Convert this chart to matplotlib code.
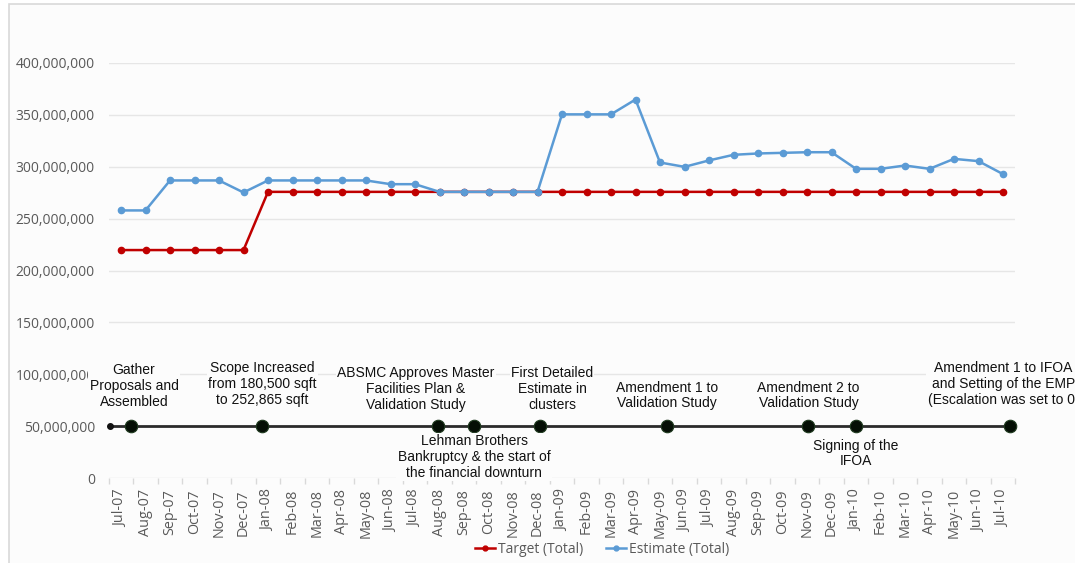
import matplotlib
matplotlib.use("Agg")
import matplotlib.pyplot as plt
from matplotlib.patches import Rectangle
from matplotlib.ticker import FuncFormatter, MultipleLocator
from matplotlib.lines import Line2D

# ---------------- data ----------------
months = ["Jul-07", "Aug-07", "Sep-07", "Oct-07", "Nov-07", "Dec-07",
          "Jan-08", "Feb-08", "Mar-08", "Apr-08", "May-08", "Jun-08",
          "Jul-08", "Aug-08", "Sep-08", "Oct-08", "Nov-08", "Dec-08",
          "Jan-09", "Feb-09", "Mar-09", "Apr-09", "May-09", "Jun-09",
          "Jul-09", "Aug-09", "Sep-09", "Oct-09", "Nov-09", "Dec-09",
          "Jan-10", "Feb-10", "Mar-10", "Apr-10", "May-10", "Jun-10",
          "Jul-10"]

target = [219.7, 219.7, 219.7, 219.7, 219.7, 219.7,
          275.8, 275.8, 275.8, 275.8, 275.8, 275.8,
          275.8, 275.8, 275.8, 275.8, 275.8, 275.8,
          275.8, 275.8, 275.8, 275.8, 275.8, 275.8,
          275.8, 275.8, 275.8, 275.8, 275.8, 275.8,
          275.8, 275.8, 275.8, 275.8, 275.8, 275.8,
          275.8]

estimate = [257.9, 257.9, 286.8, 286.8, 286.8, 275.2,
            286.8, 286.8, 286.8, 286.8, 286.8, 283.2,
            283.2, 275.8, 275.8, 275.8, 275.8, 275.8,
            350.5, 350.5, 350.5, 364.8, 304.1, 299.9,
            306.1, 311.5, 312.8, 313.4, 314.0, 314.0,
            298.0, 298.0, 301.2, 298.0, 307.6, 305.4,
            292.9]

# timeline events (month-index position on the time axis)
event_pos = [0.41, 5.76, 12.94, 14.41, 17.1, 22.29, 28.04, 30.0, 36.29]

event_labels = ["Gather\nProposals and\nAssembled",
                "Scope Increased\nfrom 180,500 sqft\nto 252,865 sqft",
                "ABSMC Approves Master\nFacilities Plan &\nValidation Study",
                "Lehman Brothers\nBankruptcy & the start of\nthe financial downturn",
                "First Detailed\nEstimate in\nclusters",
                "Amendment 1 to\nValidation Study",
                "Amendment 2 to\nValidation Study",
                "Signing of the\nIFOA",
                "Amendment 1 to IFOA\nand Setting of the EMP\n(Escalation was set to 0)"]

# ---------------- layout ----------------
label_x = [0.53, 5.78, 12.04, 14.41, 17.59, 22.29, 28.06, 29.98, 36.02]
label_y = [88.6, 90.6, 85.7, 20.2, 85.7, 79.5, 79.5, 23.6, 90.6]
timeline_y = 50
timeline_start = -0.45
timeline_end = 36.29

SCALE = 1e6
RED = "#c00000"
BLUE = "#5b9bd5"
BG = "#fcfcfc"
TICKC = "#595959"

fig = plt.figure(figsize=(10.75, 5.63), dpi=100)
fig.patch.set_facecolor("white")
fig.patches.append(Rectangle((9 / 1075, -0.1), 1.1, 1.1 - 4.5 / 563,
                             transform=fig.transFigure, facecolor=BG,
                             edgecolor="#d9d9d9", linewidth=1.2, zorder=-10))

ax = fig.add_axes([108.75 / 1075, 1 - 478 / 563,
                   (1015.25 - 108.75) / 1075, (478 - 63) / 563])
ax.set_facecolor("none")

x = list(range(len(months)))
ax.plot(x, [v * SCALE for v in target], color=RED, lw=1.8, marker="o",
        ms=4.5, label="Target (Total)", zorder=3)
ax.plot(x, [v * SCALE for v in estimate], color=BLUE, lw=1.8, marker="o",
        ms=4.5, label="Estimate (Total)", zorder=4)

ax.set_xlim(-0.5, len(months) - 0.5)
ax.set_ylim(0, 400e6)
ax.yaxis.set_major_locator(MultipleLocator(50e6))
ax.yaxis.set_major_formatter(FuncFormatter(lambda v, p: f"{int(v):,}"))
ax.grid(axis="y", color="#e6e6e6", lw=1.0, zorder=0)
ax.set_axisbelow(True)
for s in ax.spines.values():
    s.set_visible(False)

ax.set_xticks(x)
ax.set_xticklabels(months, rotation=90, fontfamily="Open Sans",
                   fontsize=10.4, color=TICKC)
ax.set_xticks([i - 0.5 for i in range(len(months) + 1)], minor=True)
ax.tick_params(axis="x", which="major", length=0, pad=8)
ax.tick_params(axis="x", which="minor", length=4, color="#d9d9d9", width=1)
ax.tick_params(axis="y", length=0, pad=10)
for lab in ax.get_yticklabels():
    lab.set_fontfamily("Open Sans")
    lab.set_fontsize(10)
    lab.set_color(TICKC)

# ---------------- timeline overlay ----------------
ax.plot([timeline_start, timeline_end], [timeline_y * SCALE] * 2,
        color="#2b2b2b", lw=2, zorder=5, clip_on=False)
ax.plot([timeline_start], [timeline_y * SCALE], marker="o", ms=4,
        color="#111111", zorder=6, clip_on=False)
ax.plot(event_pos, [timeline_y * SCALE] * len(event_pos), linestyle="none",
        marker="o", ms=9, markerfacecolor="#050f05",
        markeredgecolor="#1f3a1f", markeredgewidth=0.8, zorder=6,
        clip_on=False)
for lx, ly, txt in zip(label_x, label_y, event_labels):
    ax.text(lx, ly * SCALE, txt, ha="center", va="center",
            fontfamily="Liberation Sans", fontsize=10, color="#111111",
            linespacing=1.15, zorder=7, clip_on=False,
            bbox=dict(facecolor=BG, edgecolor="none", pad=1))

# ---------------- legend ----------------
handles = [Line2D([0], [0], color=RED, lw=1.8, marker="o", ms=3.5),
           Line2D([0], [0], color=BLUE, lw=1.8, marker="o", ms=3.5)]
leg = fig.legend(handles, ["Target (Total)", "Estimate (Total)"],
                 loc="center", bbox_to_anchor=(0.56, 0.024), ncol=2,
                 frameon=False, handlelength=1.5, handletextpad=0.2,
                 columnspacing=1.6,
                 prop={"family": "Open Sans", "size": 10})
for t in leg.get_texts():
    t.set_color(TICKC)

fig.savefig("out.png", dpi=100)
